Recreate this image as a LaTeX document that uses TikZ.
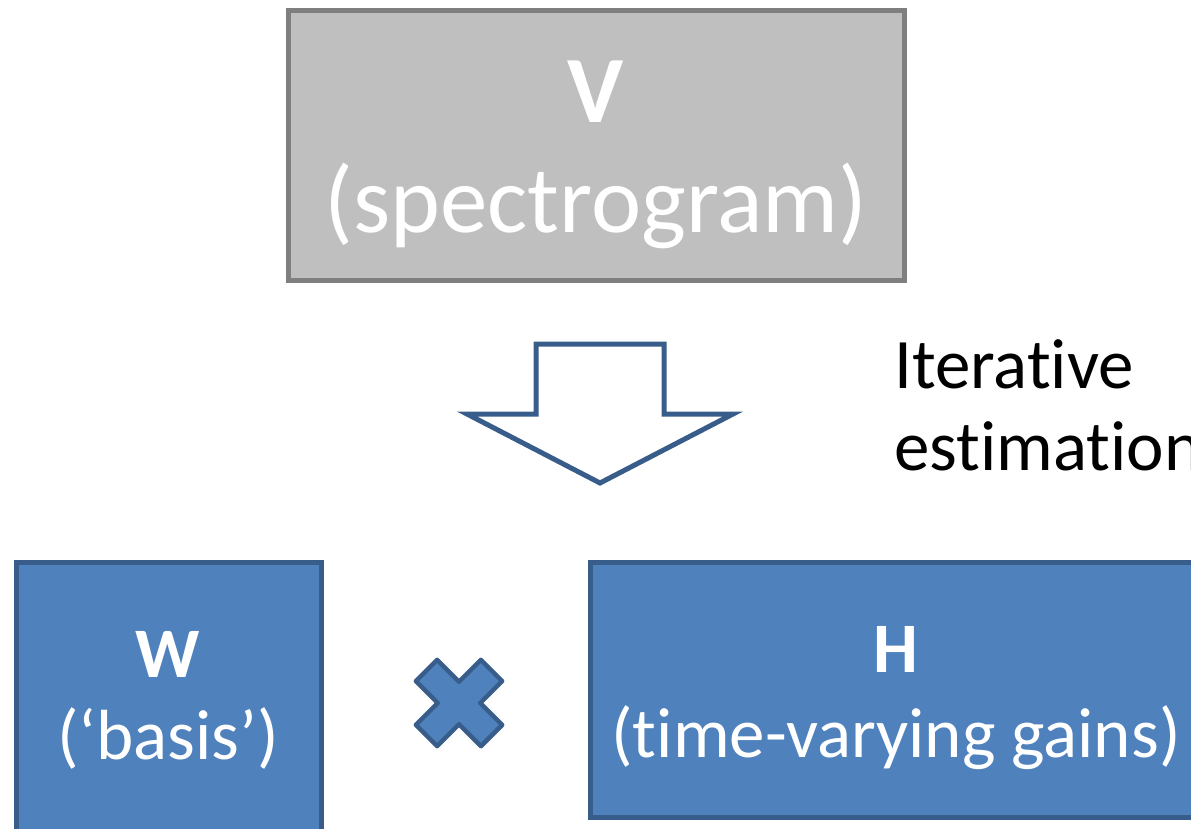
\documentclass[tikz,border=0pt]{standalone}
\usepackage{fontspec}
\setmainfont{Carlito}[Ligatures=CommonOff]
\definecolor{grayfill}{HTML}{BFBFBF}
\definecolor{grayline}{HTML}{7F7F7F}
\definecolor{bluefill}{HTML}{4F81BD}
\definecolor{blueline}{HTML}{385D8A}
\begin{document}
\begin{tikzpicture}[x=1pt,y=-1pt,
  vbox/.style={draw=grayline,fill=grayfill,line width=5pt},
  bbox/.style={draw=blueline,fill=bluefill,line width=5pt},
  wtext/.style={text=white,inner sep=0pt,anchor=base},
  ktext/.style={text=black,inner sep=0pt,anchor=base west}]
\useasboundingbox (0,0) rectangle (1191,828);
\clip (0,0) rectangle (1191,828);
% V box
\draw[vbox] (288.5,10.5) rectangle (904,280);
\node[wtext,font=\fontsize{95}{110}\selectfont\bfseries] (vlabel) at (596,122) {V};
\node[wtext,font=\fontsize{95}{110}\selectfont] (vsub) at (596,232) {(spectrogram)};
% arrow
\draw[draw=blueline,fill=white,line width=5pt,miter limit=10]
  (536,344) -- (664,344) -- (664,414) -- (733,414) -- (600,483) -- (467,414) -- (536,414) -- cycle;
\node[ktext,font=\fontsize{71}{82}\selectfont] (it1) at (894,388) {Iterative};
\node[ktext,font=\fontsize{71}{82}\selectfont] (it2) at (894,470) {estimation};
% W box
\draw[bbox] (16,562) rectangle (321,845);
\node[wtext,font=\fontsize{71}{85}\selectfont\bfseries] (wlabel) at (168,677) {W};
\node[wtext,font=\fontsize{71}{85}\selectfont] (wsub) at (168,759) {(‘basis’)};
% H box
\draw[bbox] (590,562) rectangle (1210,817);
\node[wtext,font=\fontsize{71}{85}\selectfont\bfseries] (hlabel) at (896,672) {H};
\node[wtext,font=\fontsize{71}{85}\selectfont] (hsub) at (896,757) {(time-varying gains)};
% cross
\begin{scope}[shift={(459,703)},rotate=45]
\draw[draw=blueline,fill=bluefill,line width=4.5pt,line join=round]
  (15,46) -- (-15,46) -- (-15,15) -- (-46,15) -- (-46,-15) -- (-15,-15) -- (-15,-46)
  -- (15,-46) -- (15,-15) -- (46,-15) -- (46,15) -- (15,15) -- cycle;
\end{scope}
\end{tikzpicture}
\end{document}
